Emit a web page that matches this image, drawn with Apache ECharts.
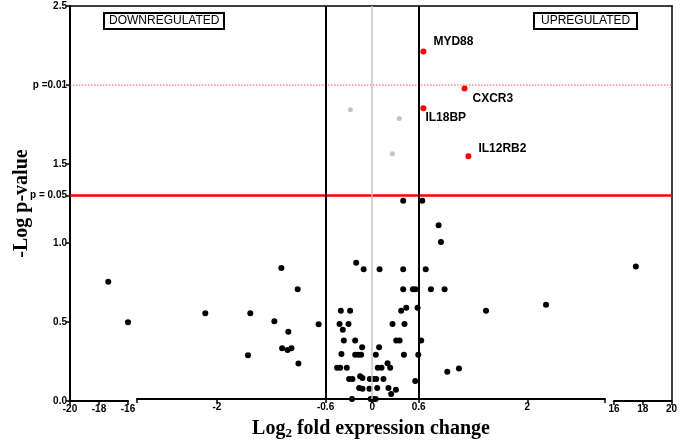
<!DOCTYPE html>
<html>
<head>
<meta charset="utf-8">
<script src="https://cdn.jsdelivr.net/npm/echarts@6/dist/echarts.min.js"></script>
<style>
  html, body { margin: 0; padding: 0; background: #fff; }
  #chart { width: 680px; height: 445px; }
</style>
</head>
<body>
<div id="chart"></div>
<script>
// log2 fold change, -log p-value
const nsPoints = [
  [-17.36, 0.755], [-16.0, 0.498],
  [-2.15, 0.546], [-1.57, 0.546], [-1.60, 0.278], [-1.17, 0.833], [-1.26, 0.494],
  [-1.08, 0.428], [-0.96, 0.698], [-1.16, 0.323], [-1.09, 0.312], [-1.04, 0.323],
  [-0.95, 0.226], [-0.69, 0.475],
  [0.40, 1.261], [0.645, 1.261], [0.856, 1.105], [0.886, 0.998],
  [-0.206, 0.867], [-0.11, 0.825], [0.095, 0.825], [0.40, 0.825], [0.69, 0.825],
  [0.40, 0.698], [0.525, 0.698], [0.56, 0.698], [0.757, 0.698], [0.933, 0.698],
  [-0.404, 0.561], [-0.284, 0.561], [0.374, 0.561], [0.439, 0.580], [0.585, 0.580],
  [-0.42, 0.477], [-0.305, 0.477], [-0.378, 0.441], [0.262, 0.477], [0.417, 0.477],
  [-0.365, 0.372], [-0.219, 0.372], [0.31, 0.372], [0.353, 0.372], [0.632, 0.372],
  [-0.129, 0.329], [0.09, 0.329],
  [-0.396, 0.287], [-0.219, 0.281], [-0.176, 0.281], [-0.142, 0.281], [0.047, 0.281],
  [0.409, 0.281], [0.594, 0.281],
  [-0.452, 0.198], [-0.413, 0.198], [-0.327, 0.198], [0.073, 0.198], [0.12, 0.198],
  [0.198, 0.228], [0.232, 0.198],
  [0.968, 0.173], [1.118, 0.194],
  [-0.297, 0.127], [-0.254, 0.127], [-0.155, 0.144], [-0.125, 0.133], [-0.03, 0.127],
  [0.017, 0.127], [0.052, 0.127], [0.146, 0.127],
  [0.555, 0.114],
  [-0.168, 0.070], [-0.125, 0.065], [-0.035, 0.065], [0.065, 0.070], [0.21, 0.07],
  [0.306, 0.059], [0.245, 0.032],
  [-0.26, 0.0], [-0.02, 0.0], [0.01, 0.0], [0.045, 0.0],
  [1.467, 0.561], [2.24, 0.599],
  [17.52, 0.852]
];

// grey: significant but fold change below cut-off
const greyPoints = [[-0.28, 1.84], [0.35, 1.785], [0.26, 1.56]];

const geneNames = ['MYD88', 'CXCR3', 'IL18BP', 'IL12RB2'];
const geneValues = [[0.66, 2.21], [1.19, 1.975], [0.66, 1.85], [1.24, 1.545]];
const geneLabelOffsets = [[2, -10], [0, 10], [-6, 10], [2, -7]];

const xTicksLeft = [-20, -18, -16];
const xTicksMid = [-2, -0.6, 0, 0.6, 2];
const xTicksRight = [16, 18, 20];
const midRange = [-3.03, 3.0];
const yTicks = [0, 0.5, 1, 1.301, 1.5, 2, 2.5];
const yTickNames = { 1.301: 'p = 0.05', 2: 'p =0.01' };
const foldCut = [-0.6, 0, 0.6];
const pCut = [1.301, 2];

const chart = echarts.init(document.getElementById('chart'));

const sans = 'Liberation Sans, Arial, sans-serif';
const serif = 'Liberation Serif, Times New Roman, serif';
const axisLine = { show: true, onZero: false, lineStyle: { color: '#000', width: 2 } };
const tickLabel = { color: '#000', fontSize: 10, fontWeight: 'bold', fontFamily: sans, margin: 3 };

function xAxisOf(index, min, max, ticks, extra) {
  return Object.assign({
    type: 'value', gridIndex: index, min: min, max: max,
    axisLine: axisLine,
    axisTick: { show: true, length: 4, customValues: ticks, lineStyle: { color: '#000', width: 1.5 } },
    axisLabel: Object.assign({ customValues: ticks }, tickLabel),
    splitLine: { show: false }
  }, extra || {});
}

function hiddenY(index) {
  return { type: 'value', gridIndex: index, min: 0, max: 2.5, show: false, splitLine: { show: false } };
}

function inSegment(lo, hi) {
  return p => p[0] >= lo && p[0] <= hi;
}

const dot = (color, size) => ({ symbol: 'circle', symbolSize: size, itemStyle: { color: color, opacity: 1 }, silent: true });

const option = {
  animation: false,
  backgroundColor: '#fff',
  title: [
    { text: 'DOWNREGULATED', left: 104, top: 13, padding: [2, 5], borderColor: '#000', borderWidth: 2,
      textStyle: { fontSize: 12, fontWeight: 'normal', color: '#000', fontFamily: sans } },
    { text: 'UPREGULATED', left: 534, top: 13, padding: [2, 7], borderColor: '#000', borderWidth: 2,
      textStyle: { fontSize: 12, fontWeight: 'normal', color: '#000', fontFamily: sans } }
  ],
  grid: [
    { left: 70, top: 6, width: 58, bottom: 44 },
    { left: 137, top: 6, width: 468, bottom: 44 },
    { left: 614, top: 6, width: 58, bottom: 44 },
    { left: 70, top: 6, right: 8, bottom: 44 }
  ],
  xAxis: [
    xAxisOf(0, -20, -16, xTicksLeft),
    xAxisOf(1, midRange[0], midRange[1], xTicksMid, {
      name: 'Log{sub|2} fold expression change',
      nameLocation: 'middle', nameGap: 19,
      nameTextStyle: {
        fontSize: 20, fontWeight: 'bold', fontFamily: serif, color: '#000',
        rich: { sub: { fontSize: 13, fontWeight: 'bold', fontFamily: serif, verticalAlign: 'bottom', padding: [9, 0, 0, 0] } }
      },
      axisTick: { show: true, length: 4, customValues: [midRange[0]].concat(xTicksMid, [midRange[1]]), lineStyle: { color: '#000', width: 1.5 } },
      axisLabel: Object.assign({ customValues: xTicksMid, formatter: v => String(v) }, tickLabel)
    }),
    xAxisOf(2, 16, 20, xTicksRight),
    { type: 'value', gridIndex: 3, min: 0, max: 1, position: 'top',
      axisLine: { show: true, onZero: false, lineStyle: { color: '#000', width: 1.5 } },
      axisTick: { show: false }, axisLabel: { show: false }, splitLine: { show: false } }
  ],
  yAxis: [
    { type: 'value', gridIndex: 0, min: 0, max: 2.5,
      name: '-Log p-value', nameLocation: 'middle', nameGap: 38, nameMoveOverlap: false,
      nameTextStyle: { fontSize: 20, fontWeight: 'bold', fontFamily: serif, color: '#000' },
      axisLine: axisLine,
      axisTick: { show: true, length: 4, customValues: yTicks, lineStyle: { color: '#000', width: 1.5 } },
      axisLabel: Object.assign({
        customValues: yTicks,
        formatter: v => yTickNames[v] || v.toFixed(1)
      }, tickLabel),
      splitLine: { show: false } },
    hiddenY(1),
    hiddenY(2),
    { type: 'value', gridIndex: 3, min: 0, max: 2.5, position: 'right',
      axisLine: { show: true, onZero: false, lineStyle: { color: '#000', width: 1.5 } },
      axisTick: { show: false }, axisLabel: { show: false }, splitLine: { show: false } }
  ],
  series: [
    // threshold lines across the whole frame
    { type: 'scatter', xAxisIndex: 3, yAxisIndex: 3, data: [], z: 1,
      markLine: {
        silent: true, symbol: 'none', label: { show: false },
        data: [
          { yAxis: pCut[0], lineStyle: { color: '#ff0000', width: 2.5, type: 'solid', opacity: 1 } },
          { yAxis: pCut[1], lineStyle: { color: '#ff4040', width: 1.5, type: 'dotted', opacity: 0.6 } }
        ]
      } },
    // fold change cut-offs
    { type: 'scatter', xAxisIndex: 1, yAxisIndex: 1, data: [], z: 1,
      markLine: {
        silent: true, symbol: 'none', label: { show: false },
        data: foldCut.map(v => ({
          xAxis: v,
          lineStyle: v === 0 ? { color: '#c4c4c4', width: 1.5, type: 'solid', opacity: 1 } : { color: '#000', width: 2, type: 'solid', opacity: 1 }
        }))
      } },
    Object.assign({ type: 'scatter', xAxisIndex: 0, yAxisIndex: 0, z: 3, data: nsPoints.filter(inSegment(-20, -16)) }, dot('#000', 6)),
    Object.assign({ type: 'scatter', xAxisIndex: 1, yAxisIndex: 1, z: 3, data: nsPoints.filter(inSegment(midRange[0], midRange[1])) }, dot('#000', 6)),
    Object.assign({ type: 'scatter', xAxisIndex: 2, yAxisIndex: 2, z: 3, data: nsPoints.filter(inSegment(16, 20)) }, dot('#000', 6)),
    Object.assign({ type: 'scatter', xAxisIndex: 1, yAxisIndex: 1, z: 3, data: greyPoints }, dot('#c4c4c4', 5)),
    Object.assign({
      type: 'scatter', xAxisIndex: 1, yAxisIndex: 1, z: 4,
      data: geneNames.map((name, i) => ({
        name: name, value: geneValues[i],
        label: { show: true, position: 'right', offset: geneLabelOffsets[i], formatter: name,
          fontSize: 12, fontWeight: 'bold', color: '#000', opacity: 1, fontFamily: sans }
      }))
    }, dot('#ff0000', 6))
  ]
};

chart.setOption(option);
</script>
</body>
</html>
